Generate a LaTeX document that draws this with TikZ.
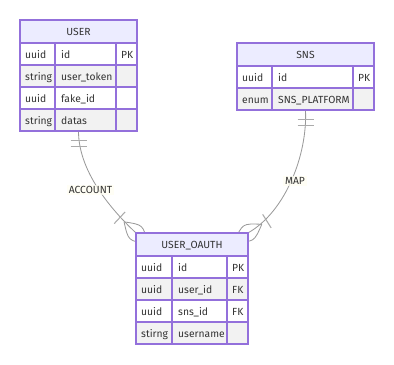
\documentclass[tikz,border=0pt]{standalone}
\usepackage{fontspec}
\setmainfont{Fira Sans}
\usetikzlibrary{arrows.meta,positioning,calc,fit,backgrounds}

\definecolor{erborder}{HTML}{9370DB}
\definecolor{erhead}{HTML}{ECECFF}
\definecolor{errow}{HTML}{F2F2F2}
\definecolor{ertext}{HTML}{333333}
\definecolor{erline}{HTML}{999999}
\definecolor{ertick}{HTML}{ABABAB}
\newcommand{\erfont}{\fontsize{8.8}{10.5}\selectfont}

\tikzset{
  cell/.style={font=\erfont,text=ertext,anchor=base west,inner sep=0pt},
  headtext/.style={font=\erfont,text=ertext,anchor=base,inner sep=0pt},
  erframe/.style={draw=erborder,line width=1pt},
  relline/.style={draw=erline,line width=0.7pt},
  reltick/.style={draw=ertick,line width=0.9pt},
  rellabel/.style={font=\erfont,text=ertext,fill=yellow!5!white,fill opacity=0.75,
    text opacity=1,inner sep=1.5pt},
  crowfoot/.pic={
    \draw[relline] (-16,0) .. controls (0,11) .. (16,0) .. controls (0,-11) .. (-16,0);
    \draw[reltick] (-22,-8) -- (-22,8);
  }
}

% entity table: name, left, top, col 1 | col 2 | right edge, title, rows
\newcommand{\erentity}[8]{%
  \fill[erhead] (#2,#3) rectangle (#6,{#3+23});
  \node[headtext] (#1-title) at ({(#2+#6)/2},{#3+15.5}) {#7};
  \foreach \ftype/\fname/\fkey [count=\i] in {#8}{
    \ifodd\i \def\rowfill{white}\else \def\rowfill{errow}\fi
    \fill[\rowfill] (#2,{#3+23+(\i-1)*22}) rectangle (#6,{#3+23+\i*22});
    \node[cell] (#1-type\i) at ({#2+5},{#3+38+(\i-1)*22}) {\ftype};
    \node[cell] (#1-name\i) at ({#4+6},{#3+38+(\i-1)*22}) {\fname};
    \node[cell] (#1-key\i) at ({#5+5},{#3+38+(\i-1)*22}) {\fkey};
    \xdef\nrows{\i}
  }
  \foreach \j in {0,...,\nrows}{
    \draw[erframe] (#2,{#3+23+\j*22}) -- (#6,{#3+23+\j*22});
  }
  \draw[erframe] (#4,{#3+23}) -- (#4,{#3+23+\nrows*22});
  \draw[erframe] (#5,{#3+23}) -- (#5,{#3+23+\nrows*22});
  \draw[erframe] (#2,#3) rectangle (#6,{#3+23+\nrows*22});
  \node[fit={(#2,#3) (#6,{#3+23+\nrows*22})},inner sep=0pt] (#1) {};
}

\begin{document}
\begin{tikzpicture}[x=0.03cm,y=-0.03cm]
\useasboundingbox (0,0) rectangle (394,364);

\erentity{user}{20}{20}{55}{116}{137}{USER}
  {uuid/id/PK, string/user\_token/{}, uuid/fake\_id/{}, string/datas/{}}
\erentity{sns}{237}{43}{272}{353}{374}{SNS}
  {uuid/id/PK, enum/SNS\_PLATFORM/{}}
\erentity{oauth}{136}{233}{172}{227}{248}{USER\_OAUTH}
  {uuid/id/PK, uuid/user\_id/FK, uuid/sns\_id/FK, stirng/username/{}}

% relations behind the tables
\begin{scope}[on background layer]
  \fill[white] (0,0) rectangle (394,364);
  \draw[relline] (user.south) .. controls +(0,44) and +(-18,-17) .. (oauth.north west);
  \draw[relline] (sns.south) .. controls +(2,45) and +(37,-21) .. (oauth.north east);
  \foreach \ent in {user,sns}{
    \foreach \dy in {9,15}{
      \draw[reltick] ($(\ent.south)+(-8,\dy)$) -- ($(\ent.south)+(8,\dy)$);
    }
  }
  \pic[rotate=-43] at (oauth.north west) {crowfoot};
  \pic[rotate=-148] at (oauth.north east) {crowfoot};
\end{scope}

\node[rellabel] (account) at (90.5,190) {ACCOUNT};
\node[rellabel] (map) at (295,181) {MAP};
\end{tikzpicture}
\end{document}
